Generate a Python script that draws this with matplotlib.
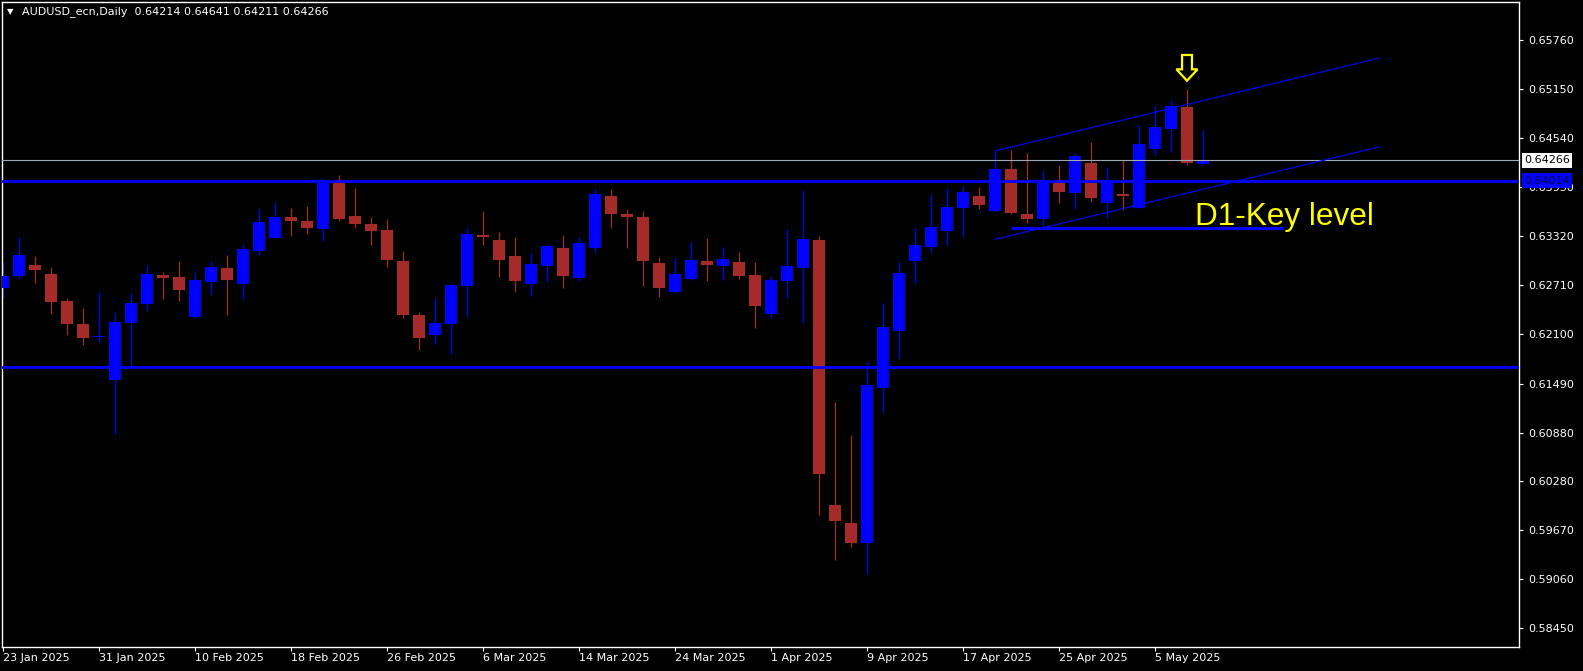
import numpy as np
import pandas as pd
import matplotlib
matplotlib.use("Agg")
import matplotlib.pyplot as plt
from matplotlib.patches import Polygon
from matplotlib.transforms import blended_transform_factory

# ==============================================================
# Data (AUDUSD daily, 23 Jan 2025 - 8 May 2025)
# ==============================================================
dates = pd.bdate_range("2025-01-23", "2025-05-08")

opens = [0.62682, 0.62831, 0.62964, 0.62852, 0.62516, 0.62230, 0.62064, 0.61537, 0.62242, 0.62483,
         0.62839, 0.62814, 0.62317, 0.62756, 0.62926, 0.62732, 0.63138, 0.63304, 0.63561, 0.63511,
         0.63411, 0.63984, 0.63573, 0.63474, 0.63399, 0.63013, 0.62342, 0.62093, 0.62234, 0.62707,
         0.63337, 0.63275, 0.63076, 0.62732, 0.62951, 0.63175, 0.62802, 0.63175, 0.63822, 0.63598,
         0.63561, 0.62989, 0.62628, 0.62790, 0.63013, 0.62951, 0.63001, 0.62839, 0.62354, 0.62765,
         0.62926, 0.63275, 0.59979, 0.59755, 0.59506, 0.61434, 0.62143, 0.63013, 0.63188, 0.63387,
         0.63673, 0.63822, 0.63636, 0.64158, 0.63598, 0.63536, 0.63996, 0.63859, 0.64233, 0.63735,
         0.63847, 0.63677, 0.64407, 0.64655, 0.64929, 0.64214]
highs = [0.63005, 0.63308, 0.63076, 0.62939, 0.62553, 0.62429, 0.62624, 0.62379, 0.62611, 0.62960,
         0.62877, 0.63013, 0.62877, 0.63009, 0.63088, 0.63225, 0.63668, 0.63735, 0.63668, 0.63698,
         0.64046, 0.64083, 0.63921, 0.63561, 0.63536, 0.63138, 0.62379, 0.62541, 0.62730, 0.63424,
         0.63635, 0.63374, 0.63312, 0.63113, 0.63225, 0.63337, 0.63312, 0.63909, 0.63909, 0.63660,
         0.63635, 0.63063, 0.63051, 0.63250, 0.63300, 0.63188, 0.63125, 0.63001, 0.62827, 0.63411,
         0.63897, 0.63324, 0.61260, 0.60849, 0.61757, 0.62491, 0.63001, 0.63424, 0.63834, 0.63921,
         0.63946, 0.63934, 0.64382, 0.64394, 0.64357, 0.64133, 0.64208, 0.64357, 0.64498, 0.64183,
         0.64274, 0.64705, 0.64942, 0.65016, 0.65153, 0.64641]
lows = [0.62549, 0.62785, 0.62744, 0.62358, 0.62093, 0.61973, 0.62010, 0.60862, 0.61699, 0.62392,
        0.62545, 0.62520, 0.62309, 0.62591, 0.62346, 0.62545, 0.63092, 0.63300, 0.63324, 0.63353,
        0.63266, 0.63515, 0.63424, 0.63212, 0.62939, 0.62309, 0.61907, 0.61985, 0.61861, 0.62333,
        0.63212, 0.62814, 0.62628, 0.62578, 0.62752, 0.62678, 0.62765, 0.63125, 0.63424, 0.63175,
        0.62702, 0.62566, 0.62620, 0.62777, 0.62765, 0.62777, 0.62790, 0.62180, 0.62305, 0.62553,
        0.62242, 0.59854, 0.59294, 0.59456, 0.59120, 0.61135, 0.61795, 0.62740, 0.63125, 0.63212,
        0.63324, 0.63660, 0.63627, 0.63598, 0.63490, 0.63441, 0.63739, 0.63665, 0.63752, 0.63553,
        0.63652, 0.63670, 0.64332, 0.64369, 0.64208, 0.64211]
closes = [0.62827, 0.63084, 0.62906, 0.62508, 0.62234, 0.62060, 0.62081, 0.62255, 0.62487, 0.62852,
          0.62806, 0.62657, 0.62777, 0.62939, 0.62781, 0.63163, 0.63499, 0.63561, 0.63515, 0.63428,
          0.63984, 0.63536, 0.63474, 0.63387, 0.63026, 0.62342, 0.62060, 0.62242, 0.62715, 0.63349,
          0.63312, 0.63026, 0.62765, 0.62976, 0.63200, 0.62827, 0.63237, 0.63847, 0.63598, 0.63561,
          0.63013, 0.62678, 0.62852, 0.63026, 0.62964, 0.63038, 0.62827, 0.62454, 0.62777, 0.62951,
          0.63287, 0.60364, 0.59780, 0.59506, 0.61471, 0.62193, 0.62864, 0.63212, 0.63436, 0.63685,
          0.63872, 0.63710, 0.64158, 0.63611, 0.63536, 0.64013, 0.63876, 0.64320, 0.63801, 0.64009,
          0.63826, 0.64469, 0.64680, 0.64942, 0.64237, 0.64266]

price_ticks = [0.65760, 0.65150, 0.64540, 0.63930, 0.63320, 0.62710, 0.62100,
               0.61490, 0.60880, 0.60280, 0.59670, 0.59060, 0.58450]
date_labels = ["23 Jan 2025", "31 Jan 2025", "10 Feb 2025", "18 Feb 2025", "26 Feb 2025",
               "6 Mar 2025", "14 Mar 2025", "24 Mar 2025", "1 Apr 2025", "9 Apr 2025",
               "17 Apr 2025", "25 Apr 2025", "5 May 2025"]

# horizontal levels and drawn objects
levels = [0.64014, 0.61693]
bid_price = closes[-1]
channel_x = [62, 86]
channel_upper = [0.64382, 0.65537]
channel_lower = [0.63283, 0.64432]
key_level = 0.63420
key_x = [63, 80]

# ==============================================================
# Style
# ==============================================================
BULL = "#0000FF"
BEAR = "#A52A2A"
BG = "#000000"
FG = "#FFFFFF"

W, H = 1583, 671
fig = plt.figure(figsize=(W / 100, H / 100), dpi=100, facecolor=BG)
ax = fig.add_axes([2 / W, 24 / H, 1517 / W, 645 / H], facecolor=BG)

# ==============================================================
# Candles
# ==============================================================
x = np.arange(len(opens))
o = np.array(opens)
c = np.array(closes)
colors = [BULL if cc >= oo else BEAR for oo, cc in zip(o, c)]

ax.vlines(x, lows, highs, colors=colors, linewidth=0.9, zorder=2)
body_bottom = np.minimum(o, c)
body_height = np.maximum(np.abs(c - o), 0.00012)
ax.bar(x, body_height, bottom=body_bottom, width=0.69, color=colors,
       linewidth=0, zorder=3)

# ==============================================================
# Lines / objects
# ==============================================================
for lv in levels:
    ax.axhline(lv, color=BULL, linewidth=2.0, zorder=4)
ax.axhline(bid_price, color="#A0A8B4", linewidth=0.8, zorder=4)

ax.plot(channel_x, channel_upper, color=BULL, linewidth=0.8, zorder=4)
ax.plot(channel_x, channel_lower, color=BULL, linewidth=0.8, zorder=4)
ax.plot(key_x, [key_level, key_level], color=BULL, linewidth=2.2,
        solid_capstyle="butt", zorder=4)

ax.text(74.5, 0.63462, "D1-Key level", color="#FFFF00", fontsize=22.7,
        family="Liberation Sans", ha="left", va="baseline", zorder=5)

# down arrow over the 7 May high
ai = 74
tip = highs[ai] + 0.00103
base = tip + 0.00142
top = tip + 0.00320
arrow = Polygon([(ai, tip), (ai - 0.66, base), (ai - 0.31, base), (ai - 0.31, top),
                 (ai + 0.31, top), (ai + 0.31, base), (ai + 0.66, base)],
                closed=True, facecolor=BG, edgecolor="#FFFF00", linewidth=1.6, zorder=5)
ax.add_patch(arrow)

# ==============================================================
# Axes
# ==============================================================
ax.set_xlim(-0.0625, 94.75)
ax.set_ylim(0.58213, 0.66235)

for sp in ax.spines.values():
    sp.set_color(FG)
    sp.set_linewidth(1.0)

ax.yaxis.tick_right()
ax.set_yticks(price_ticks)
ax.set_yticklabels([f"{p:.5f}" for p in price_ticks])
ax.tick_params(axis="y", colors=FG, labelcolor=FG, labelsize=8, length=3, pad=4, width=0.8)

date_pos = [dates.get_loc(pd.Timestamp(d)) for d in date_labels]
ax.set_xticks(date_pos)
ax.set_xticklabels(date_labels, ha="left")
ax.tick_params(axis="x", colors=FG, labelcolor=FG, labelsize=8, length=3, pad=1.5, width=0.8)

# price labels on the right scale
tr = blended_transform_factory(ax.transAxes, ax.transData)
ax.text(1.0035, bid_price, f"{bid_price:.5f}", transform=tr, ha="left", va="center",
        fontsize=8, color="black", clip_on=False, zorder=6,
        bbox=dict(boxstyle="square,pad=0.2", fc="white", ec="none"))
ax.text(1.0035, levels[0], f"{levels[0]:.5f}", transform=tr, ha="left", va="center",
        fontsize=8, color="#000040", clip_on=False, zorder=6,
        bbox=dict(boxstyle="square,pad=0.2", fc=BULL, ec="none"))

# header
fig.text(7 / W, 1 - 12 / H, "\u25bc", color=FG, fontsize=6, va="center", ha="left")
fig.text(22 / W, 1 - 12 / H,
         "AUDUSD_ecn,Daily  " + " ".join(f"{v:.5f}" for v in
                                         (opens[-1], highs[-1], lows[-1], closes[-1])),
         color=FG, fontsize=8, va="center", ha="left")

fig.savefig("out.png", dpi=100, facecolor=BG)
